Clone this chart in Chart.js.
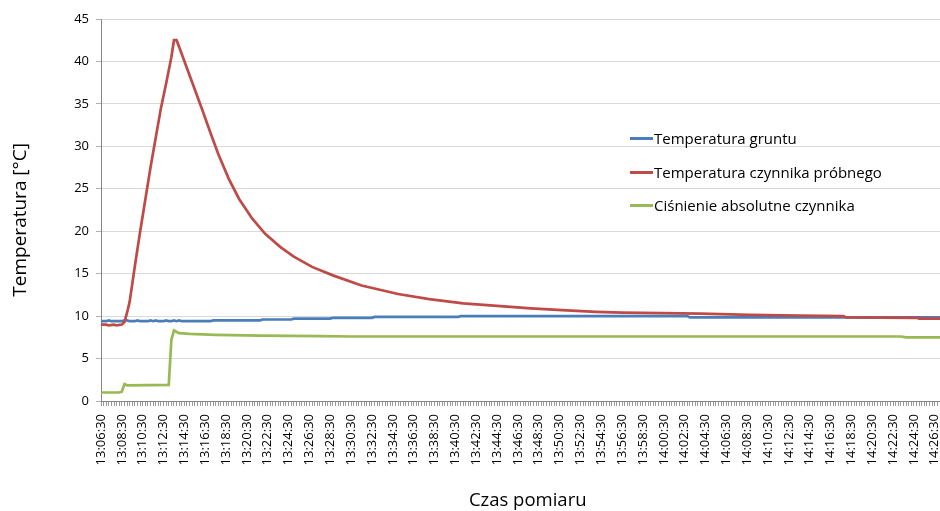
<!DOCTYPE html>
<html lang="pl">
<head>
    <meta charset="UTF-8">
    <title>Temperatura i ciśnienie czynnika</title>
    <script src="https://cdn.jsdelivr.net/npm/chart.js"></script>
    <style>
        html, body { margin: 0; padding: 0; background: #fff; overflow: hidden; }
        #wykres { position: relative; width: 945px; height: 511px; }
        #legenda {
            position: absolute; left: 630px; top: 126px;
            font-family: "Open Sans", Arial, sans-serif; font-size: 15px; color: #000;
        }
        #legenda div { height: 33.5px; display: flex; align-items: flex-start; line-height: 24px; }
        #legenda span.linia { display: inline-block; width: 23px; height: 3px; margin-top: 11px; margin-right: 1px; }
    </style>
</head>
<body>

<div id="wykres">
    <canvas id="chart"></canvas>
    <div id="legenda"></div>
</div>

<script>
    // czas w sekundach od 13:06:30
    const czasGrunt = [0, 30, 45, 60, 120, 135, 150, 165, 195, 210, 225, 270, 285, 300, 315, 330, 360, 375, 390,
        405, 420, 435, 450, 465, 630, 645, 915, 930, 1095, 1110, 1320, 1335, 1560, 1575, 2055, 2070, 3375, 3390, 4830];
    const tempGrunt = [9.4, 9.4, 9.5, 9.4, 9.4, 9.5, 9.5, 9.4, 9.4, 9.5, 9.4, 9.4, 9.5, 9.4, 9.5, 9.4, 9.4, 9.5, 9.4,
        9.4, 9.5, 9.4, 9.5, 9.4, 9.4, 9.5, 9.5, 9.6, 9.6, 9.7, 9.7, 9.8, 9.8, 9.9, 9.9, 10.0, 10.0, 9.85, 9.85];

    const czasCzynnik = [0, 30, 45, 75, 90, 120, 135, 150, 165, 195, 225, 255, 285, 315, 345, 375, 405,
        420, 435, 450, 495, 540, 585, 630, 675, 735, 795, 870, 945, 1035, 1110, 1215, 1335, 1500, 1710, 1890,
        2085, 2280, 2475, 2655, 2850, 3000, 3450, 3735, 4020, 4275, 4290, 4695, 4710, 4830];
    const tempCzynnik = [9.0, 9.0, 8.9, 9.0, 8.9, 9.0, 9.3, 10.4, 11.7, 15.9, 19.9, 23.7, 27.5, 31.0, 34.5, 37.4, 40.5,
        42.5, 42.5, 41.7, 39.2, 36.7, 34.2, 31.6, 29.1, 26.2, 23.8, 21.5, 19.7, 18.1, 17.0, 15.8, 14.8, 13.6, 12.6, 12.0,
        11.5, 11.2, 10.9, 10.7, 10.5, 10.4, 10.3, 10.15, 10.05, 10.0, 9.85, 9.8, 9.7, 9.7];

    const czasCisnienie = [0, 105, 120, 135, 150, 390, 405, 420, 450, 510, 660, 915, 1260, 1440, 4605, 4635, 4830];
    const cisnienie = [1.0, 1.0, 1.1, 2.0, 1.85, 1.9, 7.2, 8.3, 8.0, 7.9, 7.8, 7.7, 7.65, 7.6, 7.6, 7.5, 7.5];

    const etykietyCzasu = ['13:06:30', '13:08:30', '13:10:30', '13:12:30', '13:14:30', '13:16:30', '13:18:30',
        '13:20:30', '13:22:30', '13:24:30', '13:26:30', '13:28:30', '13:30:30', '13:32:30', '13:34:30', '13:36:30',
        '13:38:30', '13:40:30', '13:42:30', '13:44:30', '13:46:30', '13:48:30', '13:50:30', '13:52:30', '13:54:30',
        '13:56:30', '13:58:30', '14:00:30', '14:02:30', '14:04:30', '14:06:30', '14:08:30', '14:10:30', '14:12:30',
        '14:14:30', '14:16:30', '14:18:30', '14:20:30', '14:22:30', '14:24:30', '14:26:30'];

    const serie = [
        { label: 'Temperatura gruntu', czas: czasGrunt, wart: tempGrunt, kolor: '#4A7EBB', order: 3 },
        { label: 'Temperatura czynnika próbnego', czas: czasCzynnik, wart: tempCzynnik, kolor: '#BE4B48', order: 2 },
        { label: 'Ciśnienie absolutne czynnika', czas: czasCisnienie, wart: cisnienie, kolor: '#98B954', order: 1 }
    ];

    const czcionka = '"Open Sans", Arial, sans-serif';
    const nbsp = '\u00a0';

    const datasets = serie.map(s => ({
        label: s.label,
        data: s.czas.map((t, i) => ({ x: t, y: s.wart[i] })),
        borderColor: s.kolor,
        backgroundColor: s.kolor,
        borderWidth: 2.7,
        pointRadius: 0,
        tension: 0,
        fill: false,
        order: s.order
    }));

    const ctx = document.getElementById('chart').getContext('2d');
    new Chart(ctx, {
        type: 'line',
        data: { datasets },
        options: {
            responsive: true,
            maintainAspectRatio: false,
            animation: false,
            devicePixelRatio: 1,
            layout: { padding: { left: 0, top: 19, right: 5, bottom: 0 } },
            plugins: { legend: { display: false }, tooltip: { enabled: false } },
            scales: {
                x: {
                    type: 'linear',
                    min: 0,
                    max: 4830,
                    grid: { drawOnChartArea: false, drawTicks: true, tickLength: 5, tickColor: '#9a9a9a' },
                    border: { color: '#868686' },
                    ticks: {
                        stepSize: 15,
                        autoSkip: false,
                        minRotation: 90,
                        maxRotation: 90,
                        padding: 8,
                        color: '#000',
                        font: { family: czcionka, size: 13 },
                        callback: v => (v % 120 === 0 ? etykietyCzasu[v / 120] : '')
                    },
                    title: {
                        display: true, text: nbsp.repeat(3) + 'Czas pomiaru', color: '#000',
                        font: { family: czcionka, size: 18.5 }, padding: { top: 0, bottom: -1 }
                    },
                    afterFit: s => { s.height = 110; s.paddingLeft = 0; s.paddingRight = 0; }
                },
                y: {
                    min: 0,
                    max: 45,
                    grid: { color: '#d9d9d9', tickLength: 5, tickColor: '#b0b0b0' },
                    border: { color: '#868686' },
                    ticks: {
                        stepSize: 5, padding: 7, color: '#000',
                        font: { family: czcionka, size: 13 }
                    },
                    title: {
                        display: true, text: 'Temperatura [°C]' + nbsp.repeat(4), color: '#000',
                        font: { family: czcionka, size: 19 }, padding: { top: 9, bottom: 0 }
                    },
                    afterFit: s => { s.width = 101; }
                }
            }
        }
    });

    // legenda wewnątrz wykresu
    const leg = document.getElementById('legenda');
    serie.forEach(s => {
        const d = document.createElement('div');
        d.innerHTML = '<span class="linia" style="background:' + s.kolor + '"></span><span>' + s.label + '</span>';
        leg.appendChild(d);
    });
</script>

</body>
</html>
